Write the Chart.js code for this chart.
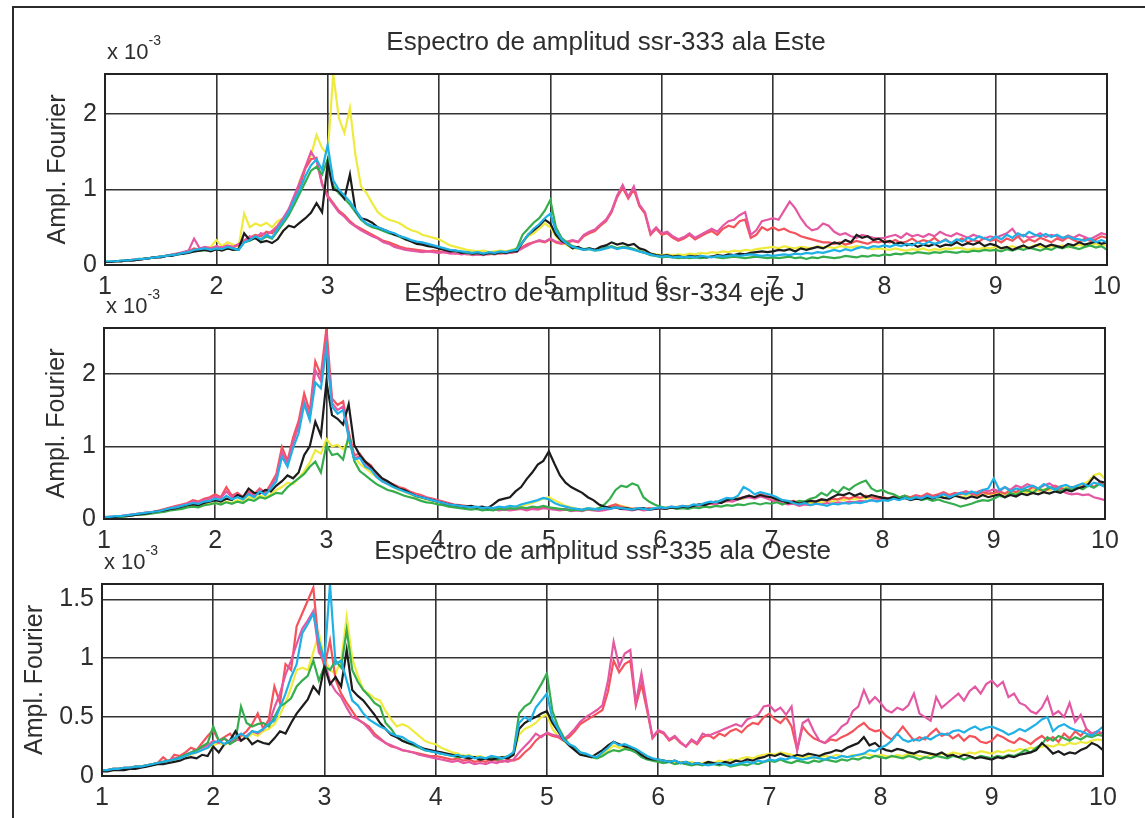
<!DOCTYPE html>
<html>
<head>
<meta charset="utf-8">
<title>Espectros de amplitud</title>
<script src="https://cdn.jsdelivr.net/npm/chart.js@4.4.1/dist/chart.umd.min.js"></script>
<style>
  html, body { margin: 0; padding: 0; background: #fff; }
  #figure { position: relative; width: 1145px; height: 818px; overflow: hidden; background: #fff; }
  #frame { position: absolute; left: 12px; top: 6px; right: -10px; bottom: -10px; border-left: 2px solid #2b2b2b; border-top: 2px solid #2b2b2b; }
  .panel { position: absolute; left: 0; width: 1145px; }
</style>
</head>
<body>
<div id="figure">
  <div id="frame"></div>
  <div class="panel" style="top:0;height:305px"><canvas id="este"></canvas></div>
  <div class="panel" style="top:254px;height:305px"><canvas id="ejeJ"></canvas></div>
  <div class="panel" style="top:510px;height:306px"><canvas id="oeste"></canvas></div>
</div>
<script>
// amplitudes in units of 1e-3, sampled every 0.05 Hz from 1 to 10 Hz

// ssr-333 ala Este
const esteBlack = [
  0.04,0.04,0.05,0.05,0.06,0.06,0.07,0.08,0.09,0.10,0.10,0.12,0.12,0.14,0.15,0.16,0.18,0.19,0.20,0.18,
  0.21,0.19,0.22,0.20,0.21,0.42,0.33,0.36,0.30,0.32,0.29,0.34,0.45,0.52,0.50,0.56,0.62,0.69,0.82,0.70,
  1.35,1.00,0.98,0.88,1.20,0.72,0.62,0.60,0.56,0.50,0.47,0.44,0.40,0.38,0.34,0.31,0.28,0.27,0.25,0.24,
  0.22,0.20,0.18,0.19,0.16,0.17,0.15,0.16,0.14,0.16,0.15,0.17,0.16,0.18,0.18,0.30,0.40,0.46,0.52,0.60,
  0.55,0.40,0.32,0.28,0.22,0.24,0.20,0.22,0.20,0.24,0.26,0.30,0.27,0.29,0.26,0.28,0.22,0.20,0.15,0.13,
  0.12,0.13,0.11,0.12,0.10,0.12,0.11,0.12,0.10,0.11,0.13,0.12,0.14,0.13,0.15,0.14,0.16,0.17,0.18,0.17,
  0.18,0.20,0.19,0.21,0.18,0.22,0.20,0.22,0.24,0.22,0.26,0.30,0.28,0.33,0.30,0.40,0.36,0.38,0.33,0.35,
  0.30,0.32,0.28,0.30,0.26,0.28,0.24,0.27,0.25,0.28,0.24,0.27,0.26,0.30,0.26,0.29,0.27,0.30,0.25,0.28,
  0.26,0.22,0.24,0.20,0.23,0.26,0.22,0.25,0.28,0.24,0.27,0.25,0.23,0.28,0.26,0.30,0.27,0.29,0.31,0.28,
  0.30
];
const esteYellow = [
  0.04,0.05,0.05,0.06,0.06,0.07,0.08,0.08,0.09,0.10,0.11,0.12,0.13,0.14,0.16,0.17,0.19,0.20,0.22,0.24,
  0.33,0.25,0.30,0.27,0.24,0.68,0.50,0.55,0.52,0.56,0.50,0.58,0.62,0.70,0.85,1.12,1.30,1.45,1.72,1.55,
  1.46,2.53,1.95,1.75,2.08,1.45,1.04,0.95,0.82,0.70,0.64,0.60,0.58,0.55,0.50,0.46,0.44,0.40,0.38,0.36,
  0.34,0.30,0.26,0.24,0.22,0.20,0.19,0.18,0.19,0.17,0.18,0.19,0.18,0.20,0.22,0.30,0.38,0.42,0.48,0.55,
  0.50,0.38,0.30,0.26,0.22,0.22,0.20,0.21,0.19,0.20,0.22,0.24,0.22,0.24,0.22,0.21,0.19,0.17,0.15,0.14,
  0.13,0.14,0.13,0.14,0.13,0.15,0.14,0.16,0.15,0.17,0.16,0.18,0.17,0.19,0.18,0.20,0.19,0.21,0.22,0.23,
  0.24,0.22,0.25,0.23,0.22,0.24,0.23,0.22,0.25,0.23,0.24,0.22,0.25,0.24,0.23,0.25,0.24,0.22,0.21,0.22,
  0.21,0.20,0.22,0.20,0.19,0.21,0.20,0.22,0.19,0.21,0.20,0.22,0.21,0.23,0.22,0.20,0.22,0.21,0.23,0.22,
  0.24,0.22,0.23,0.25,0.22,0.24,0.23,0.26,0.24,0.22,0.25,0.24,0.26,0.23,0.25,0.27,0.24,0.26,0.28,0.25,
  0.27
];
const esteRed = [
  0.04,0.04,0.05,0.05,0.06,0.07,0.07,0.08,0.09,0.10,0.11,0.12,0.13,0.15,0.16,0.18,0.22,0.20,0.22,0.21,
  0.24,0.22,0.25,0.23,0.27,0.33,0.36,0.40,0.38,0.44,0.42,0.50,0.60,0.72,0.90,1.05,1.28,1.40,1.42,1.08,
  0.92,0.82,0.72,0.66,0.58,0.52,0.48,0.44,0.40,0.36,0.32,0.30,0.27,0.24,0.22,0.21,0.20,0.19,0.18,0.19,
  0.18,0.17,0.16,0.15,0.16,0.14,0.15,0.14,0.15,0.14,0.16,0.15,0.17,0.16,0.18,0.24,0.28,0.30,0.32,0.30,
  0.34,0.30,0.28,0.30,0.32,0.30,0.38,0.42,0.45,0.52,0.58,0.70,0.90,1.02,0.88,1.00,0.78,0.68,0.40,0.48,
  0.40,0.42,0.36,0.32,0.35,0.40,0.34,0.38,0.42,0.45,0.40,0.48,0.52,0.50,0.58,0.60,0.36,0.40,0.50,0.46,
  0.50,0.46,0.48,0.44,0.42,0.38,0.36,0.34,0.32,0.30,0.30,0.28,0.30,0.27,0.29,0.32,0.30,0.28,0.31,0.30,
  0.32,0.30,0.33,0.29,0.31,0.35,0.30,0.33,0.31,0.36,0.30,0.34,0.29,0.32,0.35,0.30,0.33,0.31,0.36,0.32,
  0.34,0.30,0.35,0.32,0.38,0.30,0.34,0.31,0.36,0.33,0.30,0.35,0.32,0.37,0.33,0.30,0.35,0.32,0.34,0.38,
  0.36
];
const esteMagenta = [
  0.04,0.04,0.05,0.05,0.06,0.06,0.07,0.08,0.09,0.10,0.11,0.12,0.14,0.15,0.17,0.19,0.35,0.22,0.24,0.22,
  0.25,0.23,0.26,0.24,0.28,0.32,0.38,0.35,0.42,0.40,0.45,0.52,0.62,0.74,0.92,1.10,1.30,1.50,1.38,1.06,
  0.90,0.80,0.70,0.64,0.56,0.51,0.46,0.42,0.38,0.35,0.30,0.28,0.24,0.22,0.20,0.19,0.18,0.17,0.18,0.17,
  0.16,0.17,0.15,0.16,0.14,0.15,0.13,0.14,0.13,0.15,0.14,0.16,0.15,0.17,0.18,0.22,0.26,0.30,0.33,0.31,
  0.35,0.31,0.29,0.31,0.33,0.31,0.40,0.44,0.47,0.54,0.60,0.72,0.92,1.06,0.90,1.04,0.80,0.70,0.42,0.50,
  0.42,0.44,0.38,0.34,0.37,0.42,0.36,0.40,0.44,0.48,0.44,0.52,0.58,0.60,0.66,0.70,0.40,0.46,0.58,0.60,
  0.62,0.60,0.72,0.84,0.75,0.62,0.52,0.46,0.48,0.55,0.52,0.44,0.40,0.42,0.38,0.36,0.40,0.38,0.36,0.35,
  0.36,0.38,0.40,0.36,0.42,0.38,0.40,0.37,0.41,0.38,0.44,0.40,0.38,0.42,0.39,0.36,0.40,0.37,0.35,0.38,
  0.36,0.39,0.42,0.48,0.38,0.40,0.36,0.38,0.42,0.37,0.40,0.38,0.35,0.39,0.36,0.40,0.37,0.34,0.38,0.42,
  0.40
];
const esteCyan = [
  0.05,0.05,0.05,0.06,0.06,0.07,0.08,0.08,0.09,0.10,0.11,0.12,0.13,0.14,0.16,0.17,0.20,0.21,0.22,0.20,
  0.22,0.21,0.24,0.22,0.20,0.30,0.33,0.38,0.34,0.40,0.36,0.48,0.58,0.70,0.86,1.00,1.18,1.32,1.40,1.26,
  1.59,1.12,1.00,0.92,0.84,0.73,0.62,0.55,0.52,0.50,0.47,0.44,0.42,0.38,0.36,0.33,0.31,0.30,0.28,0.26,
  0.24,0.22,0.20,0.19,0.18,0.17,0.16,0.17,0.15,0.17,0.16,0.18,0.17,0.19,0.20,0.30,0.40,0.48,0.54,0.62,
  0.68,0.45,0.34,0.28,0.24,0.22,0.20,0.21,0.19,0.20,0.22,0.24,0.21,0.23,0.22,0.20,0.18,0.16,0.14,0.12,
  0.11,0.12,0.10,0.11,0.10,0.11,0.10,0.12,0.11,0.10,0.12,0.11,0.12,0.13,0.12,0.13,0.14,0.13,0.12,0.13,
  0.12,0.13,0.14,0.13,0.15,0.14,0.16,0.15,0.17,0.16,0.18,0.20,0.18,0.21,0.19,0.22,0.24,0.22,0.25,0.24,
  0.26,0.24,0.27,0.25,0.28,0.26,0.30,0.27,0.31,0.28,0.30,0.33,0.29,0.34,0.31,0.36,0.33,0.38,0.35,0.33,
  0.38,0.34,0.40,0.36,0.42,0.38,0.44,0.40,0.38,0.41,0.37,0.40,0.36,0.38,0.35,0.34,0.32,0.35,0.30,0.33,
  0.30
];
const esteGreen = [
  0.04,0.04,0.05,0.05,0.06,0.06,0.07,0.08,0.09,0.10,0.11,0.12,0.13,0.14,0.15,0.17,0.18,0.19,0.20,0.19,
  0.21,0.20,0.22,0.21,0.20,0.30,0.32,0.36,0.33,0.38,0.35,0.45,0.55,0.66,0.80,0.95,1.10,1.25,1.30,1.20,
  1.40,1.05,0.95,0.88,0.80,0.70,0.60,0.54,0.50,0.48,0.45,0.42,0.40,0.37,0.34,0.32,0.30,0.28,0.26,0.25,
  0.23,0.21,0.19,0.18,0.17,0.16,0.15,0.16,0.14,0.16,0.15,0.17,0.16,0.18,0.22,0.40,0.48,0.56,0.62,0.72,
  0.86,0.50,0.36,0.30,0.25,0.23,0.21,0.22,0.20,0.21,0.23,0.25,0.22,0.24,0.23,0.21,0.18,0.16,0.13,0.12,
  0.10,0.11,0.10,0.09,0.10,0.09,0.10,0.09,0.10,0.11,0.10,0.09,0.10,0.11,0.10,0.09,0.10,0.11,0.10,0.09,
  0.10,0.09,0.10,0.11,0.09,0.10,0.08,0.10,0.09,0.11,0.10,0.09,0.10,0.12,0.11,0.10,0.12,0.11,0.13,0.12,
  0.14,0.13,0.15,0.14,0.16,0.15,0.17,0.16,0.15,0.17,0.16,0.18,0.17,0.16,0.18,0.17,0.19,0.18,0.20,0.19,
  0.20,0.18,0.21,0.19,0.22,0.20,0.23,0.21,0.19,0.22,0.20,0.24,0.22,0.25,0.23,0.21,0.24,0.26,0.23,0.25,
  0.20
];

// ssr-334 eje J
const ejeBlack = [
  0.02,0.02,0.03,0.04,0.04,0.05,0.06,0.07,0.08,0.10,0.11,0.12,0.14,0.15,0.17,0.19,0.20,0.19,0.22,0.24,
  0.26,0.24,0.28,0.26,0.33,0.30,0.42,0.36,0.35,0.40,0.38,0.46,0.52,0.60,0.56,0.64,0.88,1.00,1.34,1.15,
  1.89,1.43,1.38,1.30,1.58,1.02,0.88,0.79,0.72,0.64,0.56,0.52,0.47,0.42,0.40,0.36,0.32,0.30,0.28,0.26,
  0.24,0.22,0.20,0.19,0.18,0.17,0.18,0.16,0.17,0.15,0.20,0.26,0.28,0.30,0.38,0.44,0.55,0.64,0.75,0.80,
  0.93,0.76,0.60,0.50,0.44,0.40,0.36,0.30,0.26,0.20,0.17,0.15,0.16,0.14,0.15,0.13,0.14,0.15,0.13,0.14,
  0.15,0.14,0.16,0.15,0.17,0.16,0.18,0.20,0.19,0.22,0.24,0.22,0.26,0.28,0.27,0.30,0.32,0.30,0.33,0.31,
  0.30,0.27,0.25,0.22,0.24,0.21,0.23,0.25,0.24,0.27,0.26,0.30,0.34,0.33,0.36,0.32,0.35,0.30,0.33,0.31,
  0.29,0.28,0.30,0.27,0.29,0.26,0.28,0.27,0.30,0.28,0.31,0.29,0.28,0.32,0.30,0.28,0.31,0.29,0.33,0.30,
  0.32,0.34,0.30,0.33,0.31,0.35,0.33,0.36,0.34,0.37,0.35,0.38,0.36,0.40,0.38,0.42,0.44,0.48,0.58,0.52,
  0.50
];
const ejeYellow = [
  0.02,0.02,0.03,0.03,0.04,0.05,0.06,0.07,0.08,0.09,0.10,0.11,0.13,0.14,0.16,0.17,0.18,0.17,0.20,0.21,
  0.22,0.21,0.24,0.22,0.26,0.24,0.30,0.28,0.32,0.30,0.34,0.40,0.44,0.50,0.48,0.56,0.66,0.78,0.95,0.90,
  1.10,1.00,1.02,0.96,1.08,0.86,0.76,0.70,0.64,0.58,0.52,0.48,0.44,0.40,0.38,0.34,0.31,0.29,0.27,0.25,
  0.23,0.21,0.19,0.18,0.17,0.16,0.15,0.16,0.14,0.15,0.14,0.16,0.15,0.17,0.16,0.18,0.20,0.22,0.25,0.28,
  0.30,0.26,0.22,0.18,0.16,0.14,0.13,0.15,0.14,0.13,0.15,0.17,0.20,0.18,0.16,0.14,0.15,0.13,0.14,0.15,
  0.15,0.16,0.15,0.17,0.16,0.18,0.17,0.19,0.21,0.20,0.23,0.25,0.24,0.27,0.29,0.28,0.31,0.29,0.32,0.30,
  0.28,0.26,0.24,0.22,0.23,0.21,0.23,0.22,0.24,0.23,0.25,0.24,0.27,0.26,0.28,0.27,0.29,0.28,0.30,0.29,
  0.28,0.27,0.29,0.28,0.30,0.29,0.31,0.28,0.30,0.29,0.32,0.30,0.31,0.33,0.30,0.32,0.34,0.31,0.33,0.35,
  0.33,0.36,0.34,0.37,0.35,0.38,0.36,0.40,0.38,0.41,0.39,0.43,0.40,0.44,0.42,0.46,0.48,0.52,0.60,0.63,
  0.55
];
const ejeRed = [
  0.02,0.03,0.03,0.04,0.05,0.06,0.07,0.08,0.09,0.10,0.12,0.14,0.16,0.18,0.20,0.22,0.26,0.24,0.28,0.30,
  0.34,0.30,0.44,0.32,0.36,0.30,0.38,0.34,0.42,0.36,0.48,0.62,0.99,0.80,1.12,1.35,1.73,1.48,2.17,1.98,
  2.63,1.66,1.57,1.62,1.20,0.88,0.90,0.79,0.74,0.62,0.55,0.51,0.48,0.44,0.42,0.38,0.35,0.33,0.30,0.28,
  0.26,0.24,0.22,0.20,0.19,0.18,0.17,0.16,0.15,0.14,0.15,0.13,0.14,0.13,0.14,0.15,0.13,0.15,0.14,0.16,
  0.15,0.14,0.13,0.14,0.12,0.13,0.12,0.14,0.13,0.12,0.14,0.18,0.20,0.17,0.15,0.14,0.15,0.13,0.15,0.14,
  0.16,0.15,0.17,0.16,0.18,0.17,0.19,0.18,0.20,0.22,0.21,0.24,0.26,0.25,0.28,0.30,0.32,0.30,0.34,0.32,
  0.30,0.28,0.26,0.24,0.25,0.22,0.24,0.26,0.24,0.27,0.25,0.28,0.27,0.30,0.28,0.31,0.29,0.32,0.30,0.28,
  0.30,0.28,0.31,0.29,0.32,0.30,0.33,0.31,0.35,0.32,0.34,0.37,0.33,0.36,0.34,0.38,0.35,0.33,0.37,0.35,
  0.36,0.38,0.35,0.40,0.37,0.42,0.39,0.44,0.41,0.38,0.42,0.46,0.43,0.40,0.44,0.42,0.45,0.48,0.44,0.50,
  0.46
];
const ejeMagenta = [
  0.02,0.03,0.03,0.04,0.05,0.06,0.07,0.08,0.09,0.10,0.11,0.13,0.15,0.17,0.19,0.21,0.24,0.23,0.26,0.28,
  0.31,0.29,0.38,0.30,0.34,0.29,0.36,0.32,0.40,0.35,0.45,0.58,0.92,0.76,1.05,1.28,1.62,1.40,2.05,1.90,
  2.45,1.60,1.50,1.55,1.15,0.84,0.86,0.76,0.70,0.60,0.53,0.49,0.46,0.42,0.40,0.36,0.33,0.31,0.29,0.27,
  0.25,0.23,0.21,0.19,0.18,0.17,0.16,0.15,0.14,0.13,0.14,0.12,0.13,0.12,0.13,0.14,0.12,0.14,0.13,0.15,
  0.14,0.13,0.12,0.13,0.11,0.12,0.11,0.13,0.12,0.11,0.12,0.14,0.16,0.14,0.13,0.12,0.14,0.12,0.13,0.14,
  0.15,0.14,0.16,0.15,0.17,0.16,0.18,0.17,0.19,0.21,0.20,0.23,0.25,0.24,0.27,0.29,0.30,0.28,0.31,0.29,
  0.26,0.24,0.22,0.20,0.21,0.18,0.20,0.19,0.21,0.20,0.22,0.21,0.23,0.22,0.24,0.23,0.25,0.24,0.26,0.25,
  0.27,0.26,0.28,0.27,0.30,0.28,0.31,0.29,0.33,0.30,0.32,0.35,0.31,0.34,0.36,0.38,0.35,0.37,0.40,0.38,
  0.41,0.38,0.44,0.40,0.46,0.43,0.48,0.45,0.42,0.46,0.49,0.44,0.40,0.36,0.34,0.35,0.33,0.34,0.30,0.28,
  0.26
];
const ejeCyan = [
  0.03,0.03,0.04,0.04,0.05,0.06,0.07,0.08,0.09,0.10,0.11,0.13,0.15,0.16,0.18,0.20,0.22,0.21,0.24,0.25,
  0.28,0.26,0.32,0.27,0.30,0.27,0.34,0.30,0.38,0.33,0.42,0.52,0.86,0.72,0.98,1.18,1.58,1.36,1.88,1.80,
  2.35,1.55,1.45,1.50,1.12,0.82,0.84,0.72,0.68,0.58,0.52,0.48,0.44,0.41,0.38,0.35,0.32,0.30,0.28,0.26,
  0.24,0.22,0.20,0.19,0.18,0.17,0.16,0.17,0.15,0.16,0.15,0.17,0.16,0.18,0.17,0.20,0.22,0.24,0.26,0.29,
  0.27,0.22,0.19,0.17,0.15,0.14,0.13,0.15,0.14,0.13,0.15,0.14,0.16,0.15,0.14,0.13,0.15,0.14,0.13,0.15,
  0.16,0.15,0.17,0.16,0.18,0.17,0.20,0.19,0.22,0.24,0.23,0.26,0.29,0.28,0.32,0.44,0.40,0.34,0.37,0.35,
  0.33,0.30,0.26,0.25,0.22,0.20,0.22,0.19,0.21,0.20,0.18,0.21,0.20,0.22,0.21,0.23,0.22,0.24,0.26,0.24,
  0.26,0.25,0.28,0.26,0.29,0.27,0.30,0.28,0.32,0.29,0.31,0.34,0.30,0.33,0.36,0.34,0.38,0.35,0.40,0.42,
  0.56,0.40,0.44,0.38,0.42,0.40,0.44,0.46,0.42,0.48,0.44,0.40,0.45,0.47,0.43,0.46,0.49,0.45,0.50,0.48,
  0.44
];
const ejeGreen = [
  0.02,0.02,0.03,0.03,0.04,0.05,0.06,0.06,0.07,0.08,0.09,0.10,0.12,0.13,0.14,0.16,0.17,0.16,0.19,0.20,
  0.22,0.20,0.23,0.21,0.24,0.22,0.27,0.25,0.30,0.28,0.32,0.36,0.35,0.44,0.50,0.56,0.62,0.72,0.79,0.64,
  1.02,0.88,0.90,0.82,1.15,0.80,0.66,0.60,0.54,0.48,0.44,0.40,0.38,0.35,0.32,0.30,0.28,0.25,0.23,0.22,
  0.20,0.19,0.17,0.16,0.15,0.14,0.13,0.14,0.12,0.13,0.12,0.14,0.13,0.15,0.14,0.16,0.15,0.17,0.16,0.18,
  0.16,0.15,0.14,0.13,0.12,0.13,0.12,0.14,0.13,0.15,0.20,0.28,0.40,0.46,0.44,0.49,0.46,0.30,0.24,0.20,
  0.17,0.15,0.16,0.14,0.15,0.14,0.16,0.15,0.17,0.16,0.18,0.17,0.19,0.18,0.20,0.19,0.21,0.22,0.20,0.22,
  0.21,0.23,0.20,0.24,0.22,0.25,0.24,0.28,0.30,0.36,0.32,0.40,0.36,0.44,0.40,0.46,0.50,0.53,0.42,0.38,
  0.40,0.36,0.34,0.30,0.32,0.28,0.30,0.26,0.28,0.25,0.27,0.24,0.22,0.20,0.17,0.19,0.21,0.24,0.26,0.25,
  0.28,0.32,0.30,0.36,0.33,0.38,0.40,0.36,0.42,0.39,0.44,0.41,0.38,0.42,0.40,0.44,0.41,0.46,0.43,0.48,
  0.45
];

// ssr-335 ala Oeste
const oesteBlack = [
  0.04,0.04,0.05,0.05,0.05,0.06,0.06,0.07,0.08,0.09,0.10,0.10,0.11,0.12,0.13,0.15,0.16,0.15,0.18,0.17,
  0.25,0.20,0.27,0.30,0.38,0.30,0.33,0.27,0.30,0.28,0.27,0.32,0.38,0.36,0.45,0.53,0.59,0.65,0.76,0.70,
  0.93,0.78,0.84,0.76,1.07,0.73,0.68,0.64,0.58,0.52,0.45,0.40,0.35,0.33,0.30,0.28,0.27,0.25,0.23,0.22,
  0.21,0.20,0.19,0.18,0.17,0.16,0.15,0.16,0.14,0.15,0.14,0.15,0.16,0.15,0.18,0.40,0.45,0.48,0.50,0.53,
  0.55,0.45,0.38,0.31,0.26,0.22,0.18,0.17,0.16,0.19,0.22,0.26,0.29,0.27,0.25,0.24,0.22,0.18,0.15,0.14,
  0.14,0.13,0.12,0.13,0.11,0.12,0.10,0.11,0.10,0.12,0.11,0.10,0.12,0.11,0.13,0.12,0.14,0.13,0.15,0.16,
  0.18,0.17,0.19,0.17,0.16,0.18,0.17,0.19,0.18,0.17,0.19,0.20,0.22,0.21,0.24,0.26,0.28,0.33,0.26,0.28,
  0.24,0.22,0.21,0.23,0.22,0.20,0.19,0.21,0.20,0.19,0.18,0.20,0.17,0.18,0.16,0.18,0.17,0.15,0.16,0.15,
  0.14,0.16,0.15,0.17,0.16,0.18,0.19,0.20,0.22,0.28,0.24,0.19,0.21,0.18,0.20,0.19,0.22,0.24,0.28,0.26,
  0.22
];
const oesteYellow = [
  0.05,0.05,0.05,0.06,0.06,0.07,0.07,0.08,0.09,0.10,0.11,0.12,0.13,0.14,0.15,0.17,0.18,0.20,0.22,0.24,
  0.26,0.28,0.26,0.29,0.32,0.35,0.32,0.36,0.34,0.38,0.40,0.44,0.52,0.62,0.75,0.90,0.92,0.90,1.05,1.21,
  1.00,0.90,0.87,0.98,1.35,1.00,0.85,0.73,0.70,0.66,0.64,0.55,0.48,0.42,0.44,0.42,0.38,0.34,0.30,0.28,
  0.27,0.24,0.22,0.20,0.19,0.17,0.18,0.16,0.17,0.15,0.16,0.15,0.16,0.17,0.18,0.35,0.40,0.42,0.45,0.50,
  0.52,0.40,0.34,0.30,0.26,0.24,0.20,0.18,0.17,0.16,0.18,0.22,0.26,0.24,0.25,0.23,0.22,0.19,0.16,0.14,
  0.13,0.12,0.13,0.11,0.12,0.11,0.12,0.10,0.11,0.12,0.11,0.13,0.12,0.14,0.13,0.15,0.16,0.15,0.17,0.18,
  0.19,0.18,0.20,0.19,0.18,0.17,0.16,0.17,0.15,0.16,0.17,0.16,0.18,0.17,0.16,0.18,0.17,0.19,0.18,0.17,
  0.18,0.17,0.16,0.18,0.17,0.19,0.18,0.17,0.16,0.18,0.17,0.19,0.18,0.20,0.19,0.18,0.20,0.19,0.21,0.20,
  0.19,0.21,0.20,0.22,0.21,0.23,0.22,0.24,0.23,0.25,0.26,0.25,0.27,0.26,0.28,0.27,0.29,0.28,0.30,0.31,
  0.30
];
const oesteRed = [
  0.05,0.05,0.06,0.06,0.07,0.07,0.08,0.08,0.09,0.10,0.11,0.16,0.12,0.18,0.17,0.20,0.24,0.22,0.28,0.34,
  0.39,0.30,0.33,0.36,0.30,0.34,0.38,0.44,0.53,0.40,0.48,0.76,0.62,0.95,0.90,1.27,1.38,1.49,1.60,1.10,
  0.93,1.15,0.82,0.70,0.62,0.55,0.48,0.45,0.42,0.36,0.32,0.28,0.25,0.24,0.22,0.21,0.20,0.19,0.18,0.17,
  0.17,0.16,0.15,0.14,0.15,0.13,0.14,0.12,0.13,0.12,0.14,0.13,0.12,0.14,0.13,0.15,0.20,0.24,0.30,0.34,
  0.36,0.34,0.33,0.30,0.33,0.38,0.44,0.47,0.50,0.53,0.56,0.72,0.98,0.88,0.95,0.98,0.60,0.78,0.56,0.32,
  0.38,0.36,0.30,0.33,0.28,0.25,0.30,0.27,0.33,0.35,0.32,0.36,0.34,0.38,0.40,0.37,0.42,0.45,0.44,0.50,
  0.53,0.48,0.45,0.50,0.42,0.22,0.42,0.36,0.32,0.30,0.28,0.31,0.30,0.33,0.35,0.38,0.42,0.45,0.40,0.38,
  0.39,0.34,0.31,0.36,0.42,0.36,0.30,0.33,0.31,0.36,0.40,0.34,0.36,0.32,0.35,0.30,0.34,0.33,0.29,0.28,
  0.30,0.35,0.33,0.30,0.28,0.32,0.30,0.27,0.31,0.34,0.30,0.33,0.29,0.36,0.32,0.38,0.34,0.40,0.35,0.37,
  0.36
];
const oesteMagenta = [
  0.05,0.05,0.06,0.06,0.07,0.07,0.08,0.08,0.09,0.10,0.11,0.12,0.13,0.15,0.16,0.18,0.20,0.22,0.24,0.26,
  0.30,0.28,0.32,0.29,0.31,0.30,0.34,0.38,0.36,0.40,0.44,0.58,0.70,0.86,0.98,1.12,1.25,1.32,1.40,1.05,
  0.98,0.80,0.72,0.67,0.58,0.50,0.48,0.45,0.40,0.34,0.31,0.28,0.26,0.24,0.22,0.21,0.20,0.18,0.17,0.16,
  0.15,0.14,0.13,0.12,0.13,0.11,0.12,0.10,0.11,0.10,0.12,0.11,0.13,0.12,0.14,0.20,0.25,0.30,0.36,0.33,
  0.37,0.35,0.34,0.31,0.35,0.40,0.46,0.50,0.53,0.56,0.60,0.81,1.14,0.93,1.04,1.07,0.62,0.87,0.59,0.33,
  0.39,0.37,0.31,0.34,0.29,0.25,0.31,0.28,0.36,0.34,0.36,0.38,0.40,0.42,0.44,0.42,0.48,0.50,0.52,0.59,
  0.60,0.55,0.58,0.52,0.59,0.22,0.45,0.48,0.38,0.30,0.28,0.33,0.36,0.42,0.45,0.55,0.59,0.73,0.62,0.67,
  0.62,0.56,0.54,0.58,0.56,0.60,0.70,0.53,0.50,0.47,0.67,0.58,0.62,0.66,0.70,0.64,0.72,0.76,0.70,0.78,
  0.81,0.76,0.80,0.67,0.70,0.62,0.60,0.55,0.53,0.58,0.67,0.52,0.55,0.50,0.62,0.46,0.52,0.40,0.36,0.38,
  0.36
];
const oesteCyan = [
  0.05,0.05,0.06,0.06,0.07,0.07,0.08,0.08,0.09,0.10,0.11,0.12,0.13,0.14,0.15,0.17,0.19,0.20,0.22,0.24,
  0.28,0.30,0.27,0.30,0.33,0.36,0.33,0.38,0.37,0.40,0.44,0.47,0.58,0.70,0.84,0.95,1.21,1.29,1.38,1.15,
  0.98,1.63,0.95,0.98,0.81,0.64,0.60,0.53,0.48,0.45,0.42,0.40,0.36,0.34,0.33,0.30,0.28,0.25,0.22,0.21,
  0.20,0.19,0.18,0.17,0.18,0.16,0.17,0.15,0.16,0.15,0.17,0.16,0.15,0.17,0.20,0.45,0.50,0.47,0.58,0.64,
  0.70,0.48,0.40,0.31,0.27,0.25,0.20,0.19,0.17,0.16,0.20,0.24,0.29,0.26,0.27,0.25,0.23,0.20,0.17,0.15,
  0.14,0.13,0.12,0.13,0.11,0.12,0.10,0.11,0.10,0.09,0.10,0.11,0.10,0.09,0.10,0.11,0.12,0.11,0.13,0.12,
  0.14,0.13,0.15,0.14,0.16,0.15,0.14,0.15,0.16,0.15,0.14,0.16,0.15,0.17,0.16,0.17,0.18,0.19,0.22,0.21,
  0.24,0.26,0.30,0.36,0.31,0.29,0.31,0.30,0.33,0.31,0.34,0.36,0.35,0.38,0.39,0.37,0.40,0.42,0.39,0.41,
  0.42,0.40,0.38,0.35,0.37,0.40,0.38,0.41,0.44,0.48,0.50,0.38,0.42,0.44,0.41,0.39,0.38,0.36,0.34,0.38,
  0.42
];
const oesteGreen = [
  0.05,0.05,0.06,0.06,0.07,0.07,0.08,0.08,0.09,0.10,0.11,0.12,0.13,0.14,0.16,0.18,0.20,0.22,0.25,0.28,
  0.42,0.30,0.32,0.27,0.30,0.59,0.45,0.42,0.44,0.45,0.42,0.50,0.59,0.62,0.66,0.76,0.81,0.85,0.98,0.81,
  0.93,0.90,0.98,0.92,1.24,0.90,0.80,0.73,0.68,0.62,0.59,0.45,0.40,0.33,0.30,0.28,0.26,0.24,0.22,0.21,
  0.20,0.19,0.18,0.17,0.16,0.17,0.15,0.16,0.14,0.15,0.16,0.14,0.15,0.16,0.20,0.53,0.59,0.62,0.70,0.78,
  0.87,0.55,0.42,0.33,0.27,0.24,0.20,0.18,0.16,0.15,0.17,0.20,0.22,0.21,0.23,0.22,0.20,0.16,0.14,0.13,
  0.12,0.11,0.12,0.10,0.11,0.10,0.09,0.10,0.09,0.11,0.10,0.09,0.10,0.08,0.09,0.10,0.09,0.11,0.10,0.12,
  0.13,0.12,0.14,0.12,0.11,0.13,0.12,0.11,0.13,0.12,0.14,0.13,0.12,0.14,0.13,0.15,0.14,0.16,0.15,0.17,
  0.16,0.15,0.17,0.16,0.15,0.17,0.16,0.14,0.16,0.15,0.17,0.16,0.15,0.17,0.16,0.14,0.16,0.15,0.17,0.16,
  0.15,0.17,0.16,0.18,0.17,0.19,0.22,0.20,0.24,0.27,0.33,0.30,0.34,0.32,0.30,0.33,0.31,0.34,0.33,0.35,
  0.34
];

const FREQ_START = 1;
const FREQ_STEP = 0.05;
const freqs = esteBlack.map((_, i) => Math.round((FREQ_START + i * FREQ_STEP) * 100) / 100);

const FONT = "'Liberation Sans', Arial, Helvetica, sans-serif";
const TEXT_COLOR = "#2e2e2e";
const GRID_COLOR = "#333333";
const COLORS = {
  cyan: "#1fb1e6",
  black: "#1c1c1c",
  green: "#35ad4d",
  magenta: "#e457a3",
  red: "#f4535b",
  yellow: "#efeb3e",
};

Chart.defaults.font.family = FONT;
Chart.defaults.color = TEXT_COLOR;

// box around the plot area plus the "x 10^-3" exponent label
const axesBox = {
  id: "axesBox",
  afterDraw(chart) {
    const { ctx, chartArea: a } = chart;
    ctx.save();
    ctx.strokeStyle = "#222";
    ctx.lineWidth = 2;
    ctx.strokeRect(a.left, a.top, a.right - a.left, a.bottom - a.top);

    ctx.fillStyle = TEXT_COLOR;
    ctx.textAlign = "left";
    ctx.textBaseline = "alphabetic";
    ctx.font = `22px ${FONT}`;
    ctx.fillText("x 10", a.left + 2, a.top - 15);
    const w = ctx.measureText("x 10").width;
    ctx.font = `14px ${FONT}`;
    ctx.fillText("-3", a.left + 2 + w, a.top - 29);
    ctx.restore();
  },
};

function toPoints(values) {
  return values.map((v, i) => ({ x: freqs[i], y: v }));
}

function createSpectrumChart(canvas, opts) {
  const { title, series, yMax, yStep, plotLeft, plotRight, titlePad, yTitlePad } = opts;
  // first dataset ends up on top
  const order = ["cyan", "black", "green", "magenta", "red", "yellow"];

  return new Chart(canvas, {
    type: "line",
    data: {
      datasets: order.map((key) => ({
        label: key,
        data: toPoints(series[key]),
        borderColor: COLORS[key],
        borderWidth: 2.2,
        pointRadius: 0,
        tension: 0,
        fill: false,
      })),
    },
    options: {
      responsive: true,
      maintainAspectRatio: false,
      animation: false,
      events: [],
      layout: { padding: { left: 0, right: 1145 - plotRight, top: 0, bottom: 0 } },
      scales: {
        x: {
          type: "linear",
          min: 1,
          max: 10,
          grid: { color: GRID_COLOR, lineWidth: 1.6, drawTicks: false },
          border: { display: false },
          ticks: {
            stepSize: 1,
            autoSkip: false,
            padding: 7,
            font: { size: 25 },
            callback: (v) => String(v),
          },
          afterFit: (scale) => { scale.height = 40; },
        },
        y: {
          min: 0,
          max: yMax,
          grid: { color: GRID_COLOR, lineWidth: 1.6, drawTicks: false },
          border: { display: false },
          ticks: {
            stepSize: yStep,
            includeBounds: false,
            padding: 8,
            font: { size: 25 },
            callback: (v) => String(v),
          },
          title: {
            display: true,
            text: "Ampl. Fourier",
            font: { size: 25 },
            padding: { top: yTitlePad, bottom: 0 },
          },
          afterFit: (scale) => { scale.width = plotLeft; },
        },
      },
      plugins: {
        legend: { display: false },
        tooltip: { enabled: false },
        title: {
          display: true,
          text: title,
          fullSize: false,
          color: TEXT_COLOR,
          font: { size: 26, weight: "normal" },
          padding: titlePad,
        },
      },
    },
    plugins: [axesBox],
  });
}

createSpectrumChart(document.getElementById("este"), {
  title: "Espectro de amplitud ssr-333 ala Este",
  series: { cyan: esteCyan, black: esteBlack, green: esteGreen, magenta: esteMagenta, red: esteRed, yellow: esteYellow },
  yMax: 2.53,
  yStep: 1,
  plotLeft: 105,
  plotRight: 1107,
  titlePad: { top: 27, bottom: 15.8 },
  yTitlePad: 43,
});

createSpectrumChart(document.getElementById("ejeJ"), {
  title: "Espectro de amplitud ssr-334 eje J",
  series: { cyan: ejeCyan, black: ejeBlack, green: ejeGreen, magenta: ejeMagenta, red: ejeRed, yellow: ejeYellow },
  yMax: 2.63,
  yStep: 1,
  plotLeft: 104,
  plotRight: 1105,
  titlePad: { top: 24, bottom: 18.8 },
  yTitlePad: 42,
});

createSpectrumChart(document.getElementById("oeste"), {
  title: "Espectro de amplitud ssr-335 ala Oeste",
  series: { cyan: oesteCyan, black: oesteBlack, green: oesteGreen, magenta: oesteMagenta, red: oesteRed, yellow: oesteYellow },
  yMax: 1.63,
  yStep: 0.5,
  plotLeft: 102,
  plotRight: 1103,
  titlePad: { top: 26, bottom: 16.8 },
  yTitlePad: 20,
});
</script>
</body>
</html>
